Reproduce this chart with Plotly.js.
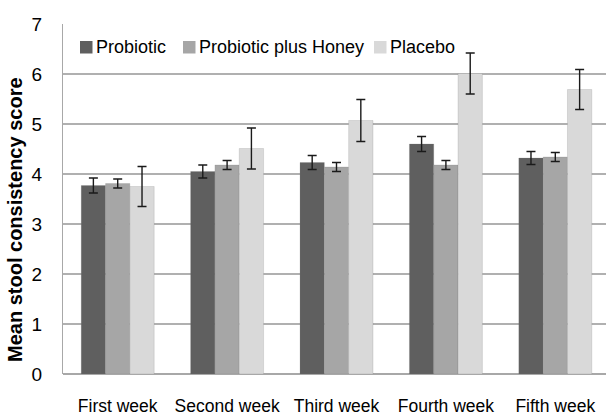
<!DOCTYPE html>
<html>
<head>
<meta charset="utf-8">
<script src="https://cdn.plot.ly/plotly-3.0.1.min.js"></script>
<style>
  html, body { margin: 0; padding: 0; background: #ffffff; }
  #chart { width: 606px; height: 416px; }
</style>
</head>
<body>
<div id="chart"></div>
<script>
// ---- Data ----
const categories = ["First week", "Second week", "Third week", "Fourth week", "Fifth week"];
const seriesNames = ["Probiotic", "Probiotic plus Honey", "Placebo"];
const probiotic = [3.77, 4.05, 4.23, 4.60, 4.32];
const probioticErr = [0.15, 0.13, 0.14, 0.15, 0.13];
const honey = [3.81, 4.18, 4.14, 4.18, 4.34];
const honeyErr = [0.09, 0.09, 0.09, 0.09, 0.09];
const placebo = [3.75, 4.51, 5.07, 6.01, 5.69];
const placeboErr = [0.40, 0.41, 0.42, 0.41, 0.40];
const yTickVals = [0, 1, 2, 3, 4, 5, 6, 7];
const yTitle = "Mean stool consistency score";

// ---- Styling ----
const colors = ["#5f5f5f", "#a6a6a6", "#d9d9d9"];
const sans = "Liberation Sans, Arial, sans-serif";
const W = 606, H = 416;
const plotL = 63, plotT = 24, plotB = 374, plotR = 606;
const plotW = plotR - plotL, plotH = plotB - plotT;
const catSpacing = 109.4;
const xMax = -0.5 + plotW / catSpacing;

function px(xp) { return (xp - plotL) / plotW; }
function py(yp) { return (plotB - yp) / plotH; }

const values = [probiotic, honey, placebo];
const errs = [probioticErr, honeyErr, placeboErr];

const traces = seriesNames.map((name, i) => ({
  type: "bar",
  name: name,
  x: categories,
  y: values[i],
  marker: { color: colors[i], line: { color: "rgba(120,120,120,0.35)", width: 0.6 } },
  error_y: { type: "data", array: errs[i], visible: true, color: "#1a1a1a", thickness: 1.4, width: 4.5 },
  hoverinfo: "skip"
}));

// Custom legend (squares + labels) matching the reference placement
const legendX = [80, 183, 374];
const shapes = [];
const annotations = [];
seriesNames.forEach((name, i) => {
  shapes.push({
    type: "rect", xref: "paper", yref: "paper",
    x0: px(legendX[i]), x1: px(legendX[i] + 12.5),
    y0: py(53.5), y1: py(41),
    fillcolor: colors[i], line: { width: 0 }
  });
  annotations.push({
    xref: "paper", yref: "paper",
    x: px(legendX[i] + 14), y: py(47),
    xanchor: "left", yanchor: "middle",
    text: name, showarrow: false,
    font: { family: sans, size: 18, color: "#000000" }
  });
});
annotations.push({
  xref: "paper", yref: "paper",
  x: px(15), y: py(220),
  xanchor: "center", yanchor: "middle",
  textangle: -90,
  text: "<b>" + yTitle + "</b>", showarrow: false,
  font: { family: sans, size: 20, color: "#000000" }
});

const layout = {
  width: W, height: H,
  margin: { l: plotL, r: W - plotR, t: plotT, b: H - plotB, pad: 0 },
  paper_bgcolor: "#ffffff",
  plot_bgcolor: "#ffffff",
  showlegend: false,
  barmode: "group",
  bargap: 0.333,
  bargroupgap: 0,
  xaxis: {
    type: "category",
    range: [-0.5, xMax],
    showgrid: false,
    showline: false,
    ticks: "",
    tickangle: 0,
    ticklabelstandoff: 19,
    tickfont: { family: sans, size: 17.5, color: "#000000" },
    fixedrange: true
  },
  yaxis: {
    range: [0, 7],
    tickvals: yTickVals,
    ticktext: yTickVals.map(String),
    showgrid: true,
    gridcolor: "#b0b0b0",
    gridwidth: 1.5,
    zeroline: true,
    zerolinecolor: "#a8a8a8",
    zerolinewidth: 1.5,
    showline: true,
    linecolor: "#a8a8a8",
    linewidth: 1,
    ticks: "",
    ticklabelstandoff: 16,
    tickfont: { family: sans, size: 19, color: "#000000" },
    fixedrange: true
  },
  shapes: shapes,
  annotations: annotations,
  font: { family: sans, color: "#000000" }
};

Plotly.newPlot("chart", traces, layout, { staticPlot: true, displayModeBar: false });
</script>
</body>
</html>
